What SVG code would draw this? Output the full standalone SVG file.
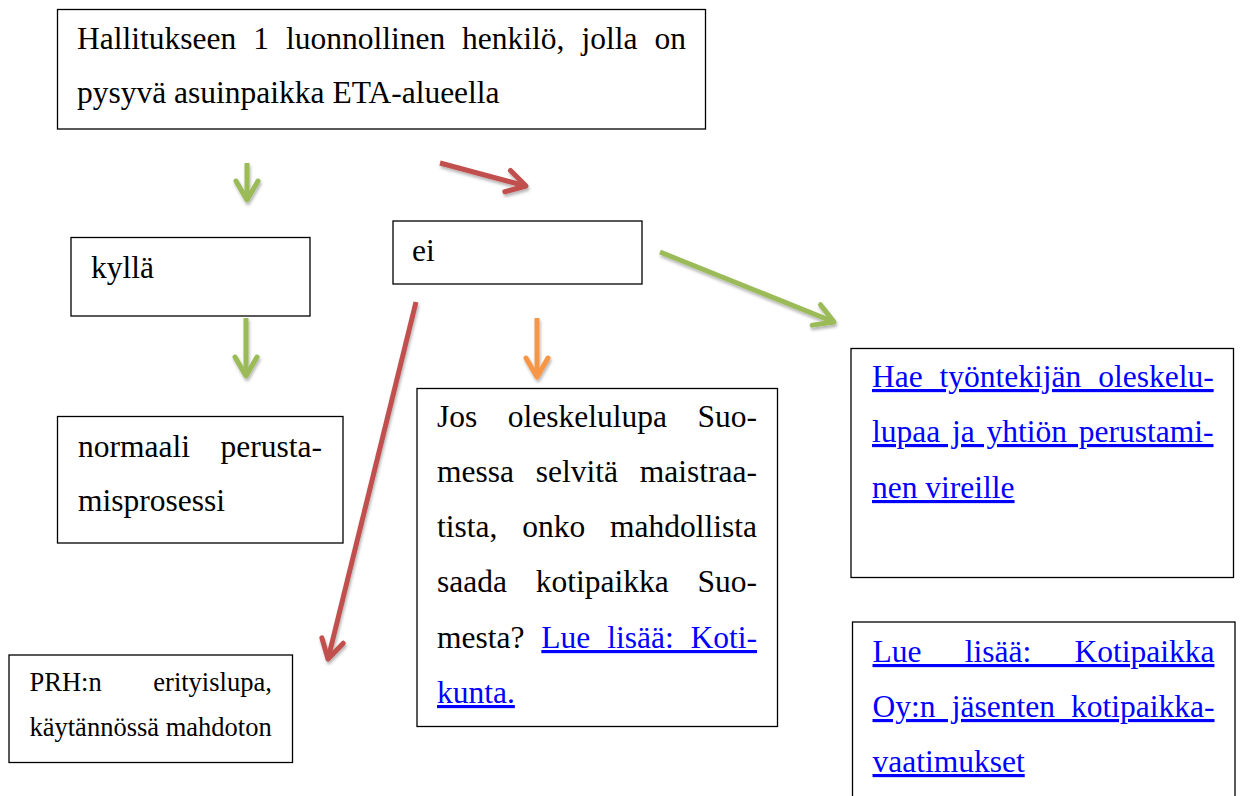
<svg xmlns="http://www.w3.org/2000/svg" width="1245" height="796" viewBox="0 0 1245 796">
<style>
.box{fill:#fff;stroke:#000;stroke-width:1.3}
.t{font-family:"Liberation Serif","Times New Roman",serif;font-size:31.5px;fill:#000}
.s{font-size:26.5px}
.lnk{fill:#0000ff;text-decoration:underline}
.arr{fill:none;stroke-width:5;stroke-linecap:butt}
.g{stroke:#9bbb59}.r{stroke:#c0504d}.o{stroke:#f79646}
</style>
<defs>
<filter id="sh" x="-20%" y="-20%" width="140%" height="140%">
<feDropShadow dx="1" dy="2.5" stdDeviation="1.5" flood-color="#000" flood-opacity="0.3"/>
</filter>
<marker id="hg" viewBox="-24 -14 28 28" markerWidth="28" markerHeight="28" refX="0" refY="0" orient="auto" markerUnits="userSpaceOnUse">
<path d="M-19,-11 L0,0 L-19,11" fill="none" stroke="#9bbb59" stroke-width="5" stroke-linecap="round" stroke-linejoin="round"/>
</marker>
<marker id="hr" viewBox="-24 -14 28 28" markerWidth="28" markerHeight="28" refX="0" refY="0" orient="auto" markerUnits="userSpaceOnUse">
<path d="M-19,-11 L0,0 L-19,11" fill="none" stroke="#c0504d" stroke-width="5" stroke-linecap="round" stroke-linejoin="round"/>
</marker>
<marker id="ho" viewBox="-24 -14 28 28" markerWidth="28" markerHeight="28" refX="0" refY="0" orient="auto" markerUnits="userSpaceOnUse">
<path d="M-19,-11 L0,0 L-19,11" fill="none" stroke="#f79646" stroke-width="5" stroke-linecap="round" stroke-linejoin="round"/>
</marker>
</defs>
<rect width="1245" height="796" fill="#fff"/>

<g id="connectors" filter="url(#sh)">
<line class="arr g" x1="247" y1="163" x2="247" y2="200" marker-end="url(#hg)"/>
<line class="arr r" x1="440" y1="163" x2="526" y2="186" marker-end="url(#hr)"/>
<line class="arr g" x1="246" y1="318" x2="246" y2="376" marker-end="url(#hg)"/>
<line class="arr o" x1="537" y1="318" x2="537" y2="377" marker-end="url(#ho)"/>
<line class="arr r" x1="416" y1="302" x2="328" y2="659" marker-end="url(#hr)"/>
<line class="arr g" x1="660" y1="252" x2="834" y2="322" marker-end="url(#hg)"/>
</g>

<g id="n-top">
<rect class="box" x="57.5" y="9.5" width="648" height="119.5"/>
<text class="t" x="77" y="49" word-spacing="9.1">Hallitukseen 1 luonnollinen henkilö, jolla on</text>
<text class="t" x="77" y="103">pysyvä asuinpaikka ETA-alueella</text>
</g>

<g id="n-kylla">
<rect class="box" x="71" y="237.5" width="239" height="78.5"/>
<text class="t" x="91" y="278">kyllä</text>
</g>

<g id="n-ei">
<rect class="box" x="393" y="221" width="249" height="63"/>
<text class="t" x="412" y="261">ei</text>
</g>

<g id="n-normaali">
<rect class="box" x="57.5" y="416.5" width="285.5" height="126.5"/>
<text class="t" x="78" y="457" word-spacing="22.7">normaali perusta-</text>
<text class="t" x="78" y="511">misprosessi</text>
</g>

<g id="n-prh">
<rect class="box" x="9" y="655" width="283.5" height="107.5"/>
<text class="t s" x="29.5" y="691" word-spacing="45">PRH:n erityislupa,</text>
<text class="t s" x="29.5" y="736">käytännössä mahdoton</text>
</g>

<g id="n-jos">
<rect class="box" x="417" y="388.5" width="360.5" height="338"/>
<text class="t" x="437" y="427" word-spacing="22.6">Jos oleskelulupa Suo-</text>
<text class="t" x="437" y="482" word-spacing="13.9">messa selvitä maistraa-</text>
<text class="t" x="437" y="537" word-spacing="16.9">tista, onko mahdollista</text>
<text class="t" x="437" y="592" word-spacing="20.9">saada kotipaikka Suo-</text>
<text class="t" x="437" y="648" word-spacing="9">mesta? <tspan class="lnk">Lue lisää: Koti-</tspan></text>
<text class="t" x="437" y="703"><tspan class="lnk">kunta.</tspan></text>
</g>

<g id="n-hae">
<rect class="box" x="851" y="348.5" width="382.5" height="229"/>
<text class="t lnk" x="872" y="387" word-spacing="9">Hae työntekijän oleskelu-</text>
<text class="t lnk" x="872" y="442" word-spacing="3.9">lupaa ja yhtiön perustami-</text>
<text class="t lnk" x="872" y="498">nen vireille</text>
</g>

<g id="n-lue">
<rect class="box" x="852.5" y="622" width="382.5" height="190"/>
<text class="t lnk" x="872.5" y="662" word-spacing="35.4">Lue lisää: Kotipaikka</text>
<text class="t lnk" x="872.5" y="717" word-spacing="8.3">Oy:n jäsenten kotipaikka-</text>
<text class="t lnk" x="872.5" y="772">vaatimukset</text>
</g>
</svg>
